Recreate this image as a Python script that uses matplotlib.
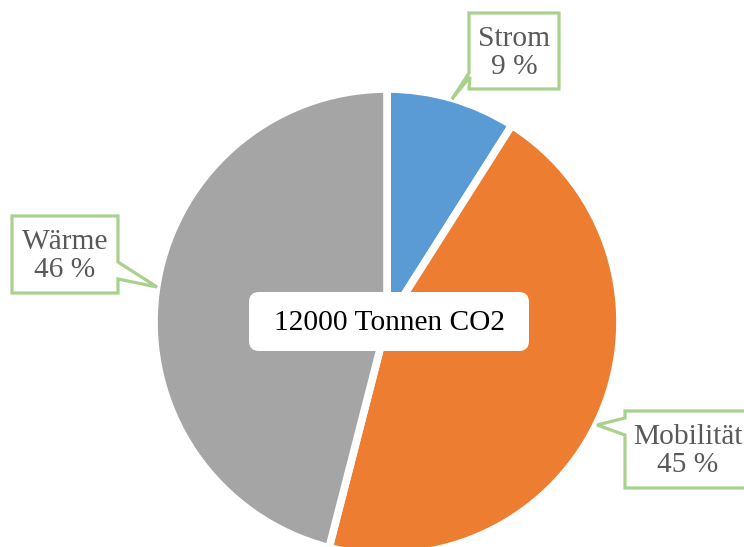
import matplotlib.pyplot as plt
from matplotlib.patches import Polygon, FancyBboxPatch

# CO2 shares by sector
labels = ["Strom", "Mobilität", "Wärme"]
shares = [9, 45, 46]
colors = ["#5B9BD5", "#ED7D31", "#A5A5A5"]
total_text = "12000 Tonnen CO2"

W, H = 744, 547
fig = plt.figure(figsize=(W / 100, H / 100), dpi=100)
ax = fig.add_axes([0, 0, 1, 1])

def fy(y):
    # pixel rows are counted from the top
    return H - y

ax.pie(shares, colors=colors, startangle=90, counterclock=False,
       center=(387, fy(322)), radius=233,
       wedgeprops=dict(edgecolor="white", linewidth=5.5))

# pie() resets the limits, so set them afterwards
ax.set_xlim(0, W)
ax.set_ylim(0, H)
ax.set_aspect("equal")
ax.axis("off")

font = "Liberation Serif"
green = "#A9D18E"
grey_txt = "#595959"

# callout boxes (outline with a wedge pointing at the slice)
callouts = {
    "Strom": [(469, 13), (469, 73), (452, 99), (470, 77), (469, 89),
              (559, 89), (559, 13)],
    "Wärme": [(12, 216), (12, 293), (118, 293), (118, 279), (157, 287),
              (118, 262), (118, 216)],
    "Mobilität": [(625, 411), (625, 418), (597, 425), (625, 435),
                  (625, 488), (751, 488), (751, 411)],
}
centers = {"Strom": (514, 53), "Wärme": (65, 256), "Mobilität": (688, 451)}

for name, val in zip(labels, shares):
    pts = [(x, fy(y)) for x, y in callouts[name]]
    ax.add_patch(Polygon(pts, closed=True, facecolor="white",
                         edgecolor=green, linewidth=2.3, joinstyle="miter",
                         clip_on=False))
    cx, cy = centers[name]
    ax.text(cx, fy(cy), f"{name}\n{val} %", ha="center", va="center",
            family=font, fontsize=21.2, color=grey_txt, linespacing=1.13)

# total in the middle
ax.add_patch(FancyBboxPatch((249, fy(351)), 280, 59,
                            boxstyle="round,pad=0,rounding_size=10",
                            facecolor="white", edgecolor="none"))
ax.text(389, fy(323), total_text, ha="center", va="center",
        family=font, fontsize=21.2, color="black")

fig.savefig("out.png", dpi=100)
